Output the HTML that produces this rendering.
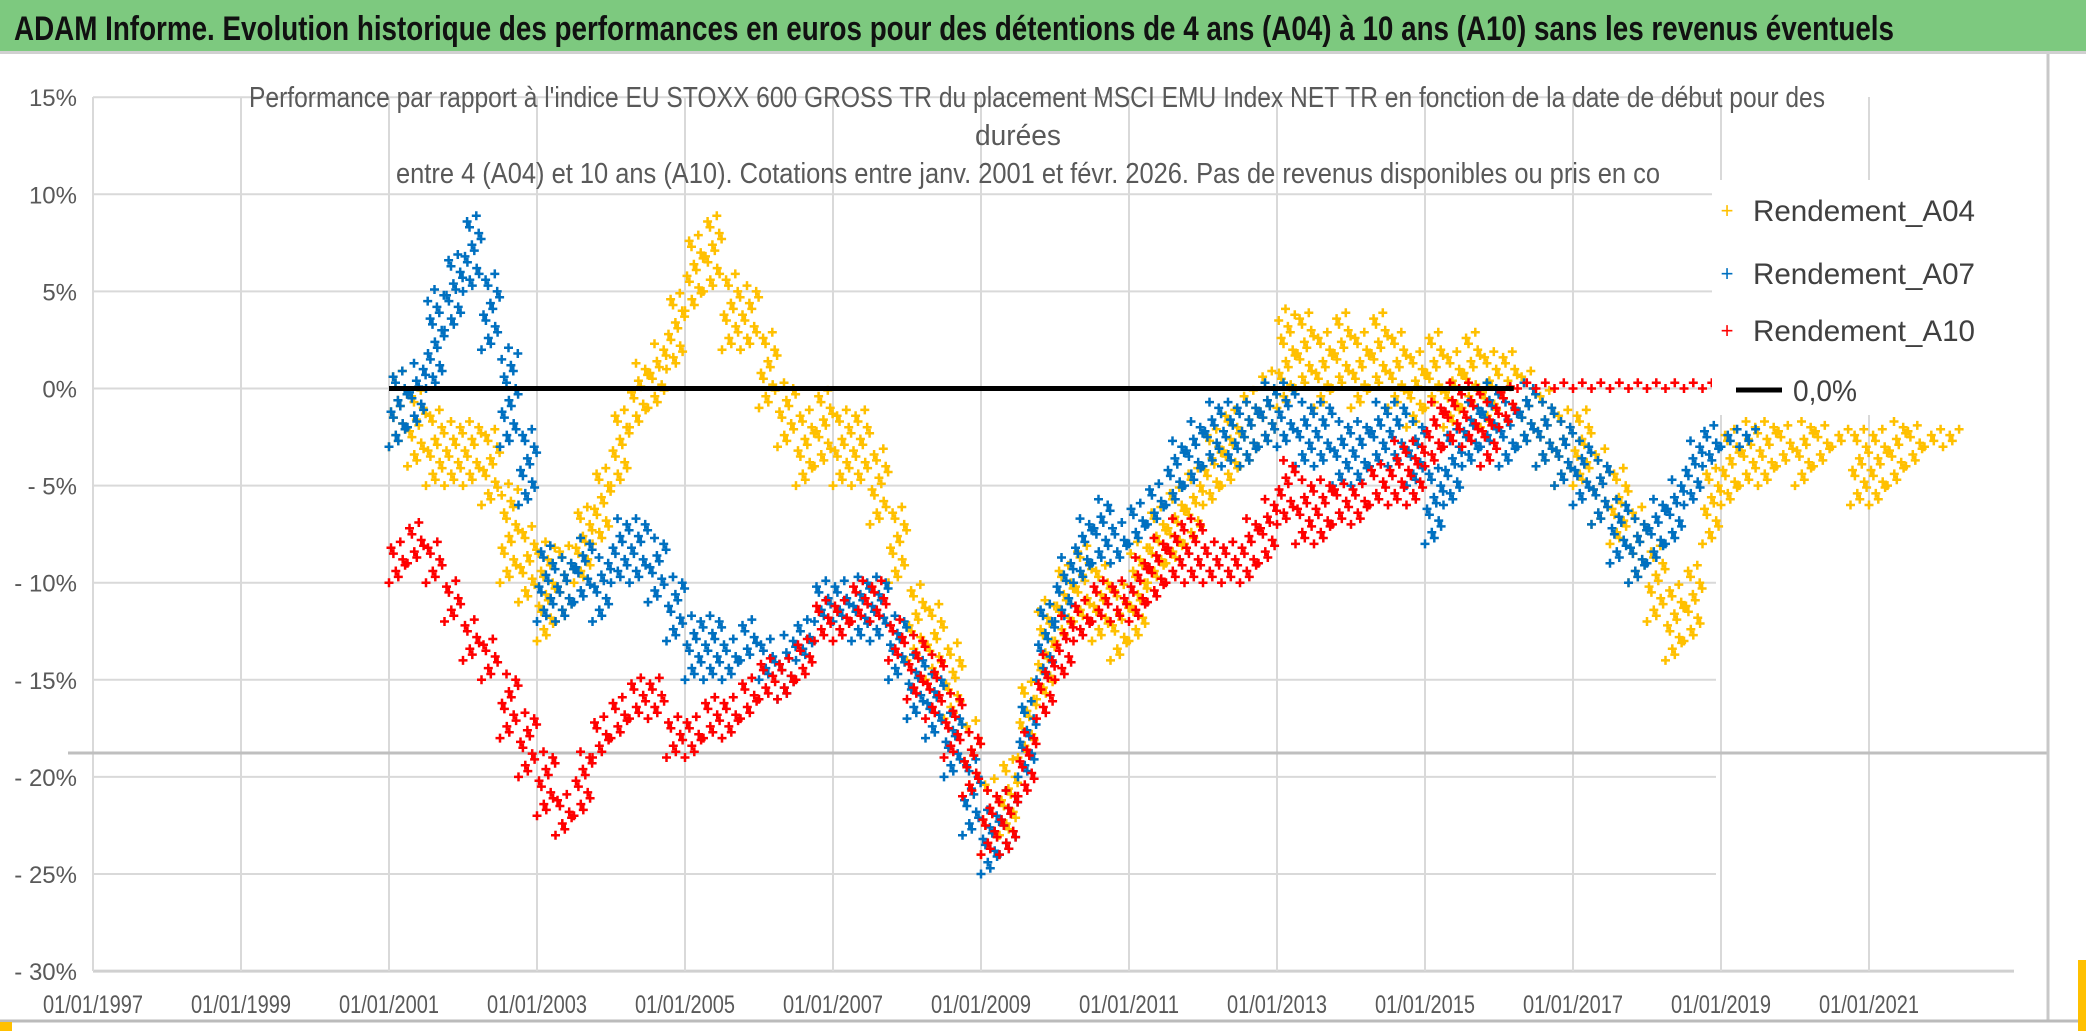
<!DOCTYPE html>
<html><head><meta charset="utf-8"><style>
html,body{margin:0;padding:0;background:#fff;width:2086px;height:1031px;overflow:hidden}
svg{display:block;font-family:"Liberation Sans",sans-serif}
</style></head><body>
<svg id="chart" width="2086" height="1031" viewBox="0 0 2086 1031">
<rect x="0" y="0" width="2086" height="51" fill="#7DC97F"/>
<rect x="0" y="51" width="2086" height="3" fill="#d0d0d0"/>
<text x="14" y="40" font-size="34" font-weight="bold" fill="#111" textLength="1880" lengthAdjust="spacingAndGlyphs">ADAM Informe. Evolution historique des performances en euros pour des détentions de 4 ans (A04) à 10 ans (A10) sans les revenus éventuels</text>
<g id="grid"></g>
<line x1="68" y1="753" x2="2048" y2="753" stroke="#bfbfbf" stroke-width="3"/>
<line x1="2048" y1="54" x2="2048" y2="1020" stroke="#c8c8c8" stroke-width="3"/>
<line x1="0" y1="1021" x2="2086" y2="1021" stroke="#bbb" stroke-width="3"/>
<rect x="0" y="1022" width="12" height="9" fill="#FFC000"/>
<rect x="2078" y="960" width="8" height="71" fill="#FFC000"/>
<g id="marks"></g>
<rect x="1712" y="180" width="330" height="235" fill="#fff"/>
<g fill="#595959" font-size="29" text-anchor="middle">
<text x="1037" y="107" textLength="1576" lengthAdjust="spacingAndGlyphs">Performance par rapport à l'indice EU STOXX 600 GROSS TR  du placement MSCI EMU Index NET TR en fonction de la date de début pour des</text>
<text x="1018" y="145" textLength="86" lengthAdjust="spacingAndGlyphs">durées</text>
<text x="1028" y="183" textLength="1264" lengthAdjust="spacingAndGlyphs">entre 4 (A04) et 10 ans (A10). Cotations entre janv. 2001 et févr. 2026. Pas de revenus disponibles ou pris en co</text>
</g>
<g id="legend" font-size="30" fill="#404040">
<g><text x="1727" y="218" fill="#FFC000" font-size="22" text-anchor="middle">+</text><text x="1753" y="221" textLength="222" lengthAdjust="spacingAndGlyphs">Rendement_A04</text></g>
<g><text x="1727" y="281" fill="#0070C0" font-size="22" text-anchor="middle">+</text><text x="1753" y="284" textLength="222" lengthAdjust="spacingAndGlyphs">Rendement_A07</text></g>
<g><text x="1727" y="338" fill="#FF0000" font-size="22" text-anchor="middle">+</text><text x="1753" y="341" textLength="222" lengthAdjust="spacingAndGlyphs">Rendement_A10</text></g>
<g><line x1="1736" y1="390" x2="1782" y2="390" stroke="#000" stroke-width="5"/><text x="1793" y="401" textLength="64" lengthAdjust="spacingAndGlyphs">0,0%</text></g>
</g>
</svg>
<script>
// ---- data (quarterly bands of points, percent) ----
const xTickYears = [1997,1999,2001,2003,2005,2007,2009,2011,2013,2015,2017,2019,2021];
const xTickLabels = ["01/01/1997","01/01/1999","01/01/2001","01/01/2003","01/01/2005","01/01/2007","01/01/2009","01/01/2011","01/01/2013","01/01/2015","01/01/2017","01/01/2019","01/01/2021"];
const yTicks = [15,10,5,0,-5,-10,-15,-20,-25,-30];
const yTickLabels = ["15%","10%","5%","0%","- 5%","- 10%","- 15%","- 20%","- 25%","- 30%"];
const startYear = 2001;
const a04Low  = [-3,-4,-5,-5,-5,-6,-10,-11,-13,-12,-10,-8,-5,-2,-1,1,4,5,2,2,-1,-3,-5,-4,-5,-5,-7,-10,-14,-15,-17,-21,-24,-23,-19,-16,-13,-12,-13,-14,-13,-10,-9,-8,-6,-5,-4,-3,-1,0,-1,0,-1,0,-1,-2,-1,-2,-1,-2,-2,-3,-4,-5,-5,-7,-8,-10,-12,-14,-13,-8,-6,-5,-5,-4,-5,-4,-3,-6,-6,-5,-4,-3,-3];
const a04High = [1,0,-1,-2,-2,-2,-5,-7,-8,-8,-6,-4,-1,1,2,5,8,9,6,5,3,0,-1,0,-1,-1,-3,-6,-10,-11,-13,-17,-20,-19,-15,-11,-9,-8,-9,-10,-8,-6,-5,-4,-2,-1,0,1,4,4,3,4,3,4,3,2,3,2,3,2,2,1,0,-1,-1,-3,-4,-6,-8,-10,-9,-4,-2,-2,-2,-2,-2,-2,-2,-2,-2,-2,-2,-2,-2];
const a07Low  = [-3,-2,0,3,5,2,-3,-6,-12,-12,-11,-12,-10,-10,-11,-13,-15,-15,-15,-14,-15,-16,-14,-12,-12,-13,-13,-15,-17,-18,-20,-23,-25,-24,-20,-15,-12,-10,-9,-9,-8,-7,-6,-5,-4,-4,-4,-3,-3,-4,-4,-5,-5,-4,-4,-5,-8,-6,-4,-3,-4,-3,-4,-5,-6,-7,-9,-10,-9,-8,-6,-4,-3,-3];
const a07High = [1,1,5,7,9,6,2,-2,-8,-9,-8,-9,-7,-7,-8,-10,-12,-12,-13,-12,-13,-13,-12,-10,-10,-10,-10,-12,-14,-15,-17,-19,-22,-21,-16,-11,-9,-7,-6,-7,-6,-5,-3,-2,-1,-1,-1,0,0,-1,-1,-2,-2,-1,-1,-2,-4,-2,-1,0,-1,0,-1,-2,-3,-4,-6,-7,-6,-5,-3,-2,-2,-2];
const a10Low  = [-10,-9,-10,-12,-14,-15,-18,-20,-22,-23,-22,-19,-18,-17,-17,-19,-19,-18,-18,-17,-16,-16,-15,-13,-13,-12,-12,-14,-16,-17,-19,-21,-24,-24,-21,-17,-15,-13,-12,-12,-12,-11,-10,-10,-10,-10,-10,-9,-7,-8,-8,-7,-7,-6,-6,-6,-4,-3,-3,-4,-2,0,0,0,0,0,0,0,0,0,0,0];
const a10High = [-8,-7,-8,-10,-12,-13,-15,-17,-19,-21,-19,-17,-16,-15,-15,-17,-17,-16,-16,-15,-14,-14,-13,-11,-11,-10,-10,-12,-13,-14,-16,-18,-21,-21,-18,-14,-12,-11,-10,-10,-9,-8,-7,-7,-8,-8,-7,-6,-4,-5,-5,-5,-5,-4,-3,-3,-1,0,0,-1,0,0,0,0,0,0,0,0,0,0,0,0];
const zeroLineStart = 2001, zeroLineEnd = 2016.2, zeroValue = 0;

// ---- axes ----
const X0 = 93, PX_PER_YEAR = 74, Y0 = 388.5, PX_PER_PCT = 19.42;
const PLOT_L = 93, PLOT_R = 2014, PLOT_T = 97, PLOT_B = 971;
function xScale(year){ return X0 + (year - 1997) * PX_PER_YEAR; }
function yScale(v){ return Y0 - v * PX_PER_PCT; }
const NS = "http://www.w3.org/2000/svg";
const grid = document.getElementById('grid');
const marks = document.getElementById('marks');

yTicks.forEach((t,i) => {
  const l = document.createElementNS(NS,'line');
  l.setAttribute('x1', PLOT_L); l.setAttribute('x2', t===-30 ? PLOT_R : 1716);
  l.setAttribute('y1', yScale(t)); l.setAttribute('y2', yScale(t));
  l.setAttribute('stroke', t===-30 ? '#d0d0d0' : '#d9d9d9'); l.setAttribute('stroke-width', t===-30 ? 3 : 2);
  
  
  grid.appendChild(l);
  const tx = document.createElementNS(NS,'text');
  tx.setAttribute('x', 77); tx.setAttribute('y', yScale(t) + 9);
  tx.setAttribute('text-anchor','end'); tx.setAttribute('font-size','24'); tx.setAttribute('fill','#595959');
  tx.textContent = yTickLabels[i];
  
  
  grid.appendChild(tx);
});
xTickYears.forEach((yr,i) => {
  const x = xScale(yr);
  const l = document.createElementNS(NS,'line');
  l.setAttribute('x1', x); l.setAttribute('x2', x);
  l.setAttribute('y1', PLOT_T); l.setAttribute('y2', PLOT_B);
  l.setAttribute('stroke', '#d9d9d9'); l.setAttribute('stroke-width', 2);
  
  
  grid.appendChild(l);
  const tx = document.createElementNS(NS,'text');
  tx.setAttribute('x', x); tx.setAttribute('y', 1013);
  tx.setAttribute('text-anchor','middle'); tx.setAttribute('font-size','25'); tx.setAttribute('fill','#595959');
  tx.setAttribute('textLength','100'); tx.setAttribute('lengthAdjust','spacingAndGlyphs');
  tx.textContent = xTickLabels[i];
  
  
  grid.appendChild(tx);
});

function drawSeries(low, high, color, name){
  let d = '';
  const s = 4.5;
  for (let i = 0; i < low.length; i++){
    const t = startYear + i * 0.25;
    let k = 0;
    for (let v = low[i]; v <= high[i] + 0.001; v += 0.6){
      for (let j = 0; j < 2; j++){
        const x = xScale(t + ((k * 0.37 + j * 0.5) % 1) * 0.25);
        const y = yScale(v + j * 0.3);
        d += 'M' + (x - s).toFixed(1) + ' ' + y.toFixed(1) + 'h' + (2*s) + 'M' + x.toFixed(1) + ' ' + (y - s).toFixed(1) + 'v' + (2*s);
      }
      k++;
    }
  }
  const p = document.createElementNS(NS,'path');
  p.setAttribute('d', d); p.setAttribute('stroke', color); p.setAttribute('stroke-width', 2.5); p.setAttribute('fill','none');
  
  
  marks.appendChild(p);
}
drawSeries(a04Low, a04High, '#FFC000', 'series-a04');
drawSeries(a07Low, a07High, '#0070C0', 'series-a07');
drawSeries(a10Low, a10High, '#FF0000', 'series-a10');

const zl = document.createElementNS(NS,'line');
zl.setAttribute('x1', xScale(zeroLineStart)); zl.setAttribute('x2', xScale(zeroLineEnd));
zl.setAttribute('y1', yScale(zeroValue)); zl.setAttribute('y2', yScale(zeroValue));
zl.setAttribute('stroke', '#000'); zl.setAttribute('stroke-width', 5);


marks.appendChild(zl);
</script>
</body></html>
